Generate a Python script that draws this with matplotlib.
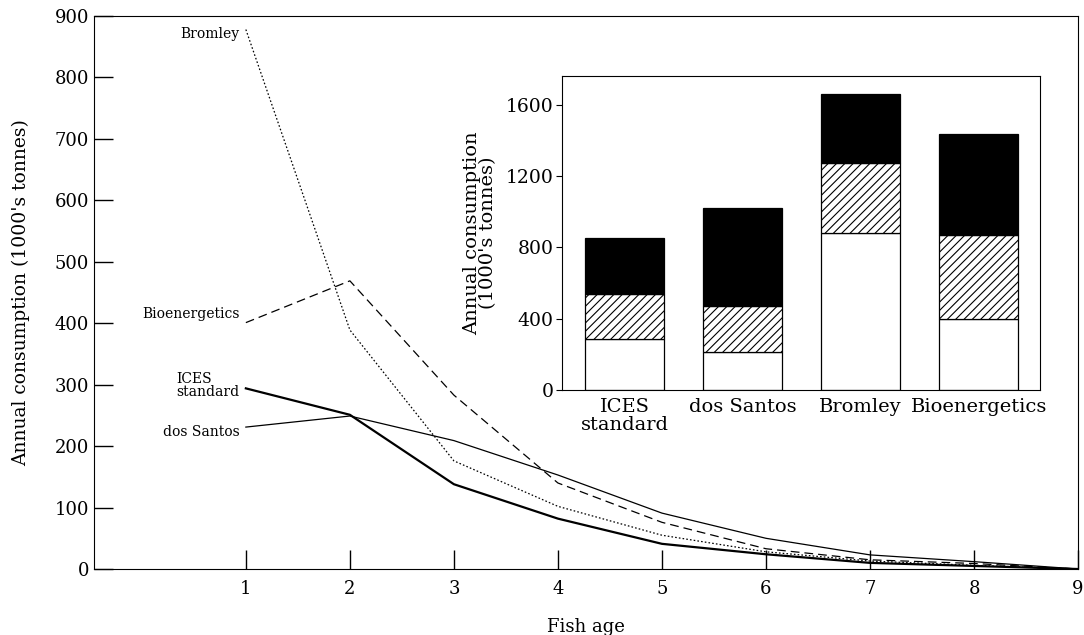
import numpy as np
from matplotlib import pyplot as plt

plt.rcParams['font.family'] = ['DejaVu Serif']
plt.rcParams['hatch.linewidth'] = 0.8

# main panel: consumption by fish age
age = [1, 2, 3, 4, 5, 6, 7, 8, 9]
ices = [294, 251, 138, 82, 41, 24, 10, 5, 0]
dos_santos = [231, 249, 209, 153, 91, 50, 23, 12, 0]
bromley = [878, 389, 176, 102, 55, 28, 13, 6, 0]
bioenergetics = [401, 469, 283, 140, 76, 33, 15, 9, 0]

# inset: stacked totals
models = ["ICES\nstandard", "dos Santos", "Bromley", "Bioenergetics"]
part_white = [285, 212, 880, 397]
part_hatch = [254, 260, 390, 470]
part_black = [311, 550, 389, 567]

fig = plt.figure(figsize=(10.84, 6.35), dpi=100)
ax = fig.add_axes([0.0867, 0.1039, 0.9078, 0.8709])

ax.plot(age, ices, color='black', lw=1.6, ls='-')
ax.plot(age, dos_santos, color='black', lw=0.9, ls='-')
ax.plot(age, bromley, color='black', lw=0.9, ls=(0, (1.3, 1.7)))
ax.plot(age, bioenergetics, color='black', lw=0.9, ls=(0, (7, 4)))

ax.text(0.94, bromley[0] - 8, "Bromley", ha='right', va='center', fontsize=10)
ax.text(0.94, bioenergetics[0] + 14, "Bioenergetics", ha='right', va='center', fontsize=10)
ax.text(0.33, ices[0] + 5, "ICES\nstandard", ha='left', va='center', fontsize=10, linespacing=0.95)
ax.text(0.94, dos_santos[0] - 8, "dos Santos", ha='right', va='center', fontsize=10)

ax.set_xlim(-0.46, 9)
ax.set_ylim(0, 900)
ax.set_xticks(age)
ax.set_yticks(range(0, 901, 100))
ax.tick_params(direction='in', length=14, width=1, labelsize=13)
ax.tick_params(axis='x', pad=8)
ax.set_xlabel("Fish age", fontsize=13, labelpad=14)
ax.set_ylabel("Annual consumption (1000's tonnes)", fontsize=13.5, labelpad=18)

# inset bar chart
ins = fig.add_axes([0.5185, 0.3858, 0.441, 0.4945])
pos = np.arange(len(models))
ins.bar(pos, part_white, width=0.67, color='white', edgecolor='black', lw=0.9)
ins.bar(pos, part_hatch, width=0.67, bottom=part_white, color='white',
        edgecolor='black', hatch='////', lw=0.9)
ins.bar(pos, part_black, width=0.67, bottom=np.array(part_white) + np.array(part_hatch),
        color='black', edgecolor='black', lw=0.9)
ins.set_xlim(-0.53, 3.52)
ins.set_ylim(0, 1760)
ins.set_yticks([0, 400, 800, 1200, 1600])
ins.set_xticks(pos)
ins.set_xticklabels(models, linespacing=0.95)
ins.tick_params(axis='y', direction='out', length=4, labelsize=13.5, pad=2)
ins.tick_params(axis='x', length=0, labelsize=14, pad=6)
ins.set_ylabel("Annual consumption\n(1000's tonnes)", fontsize=14, linespacing=0.9, labelpad=6)
for s in ins.spines.values():
    s.set_linewidth(0.8)

fig.savefig('out.png', dpi=100)
